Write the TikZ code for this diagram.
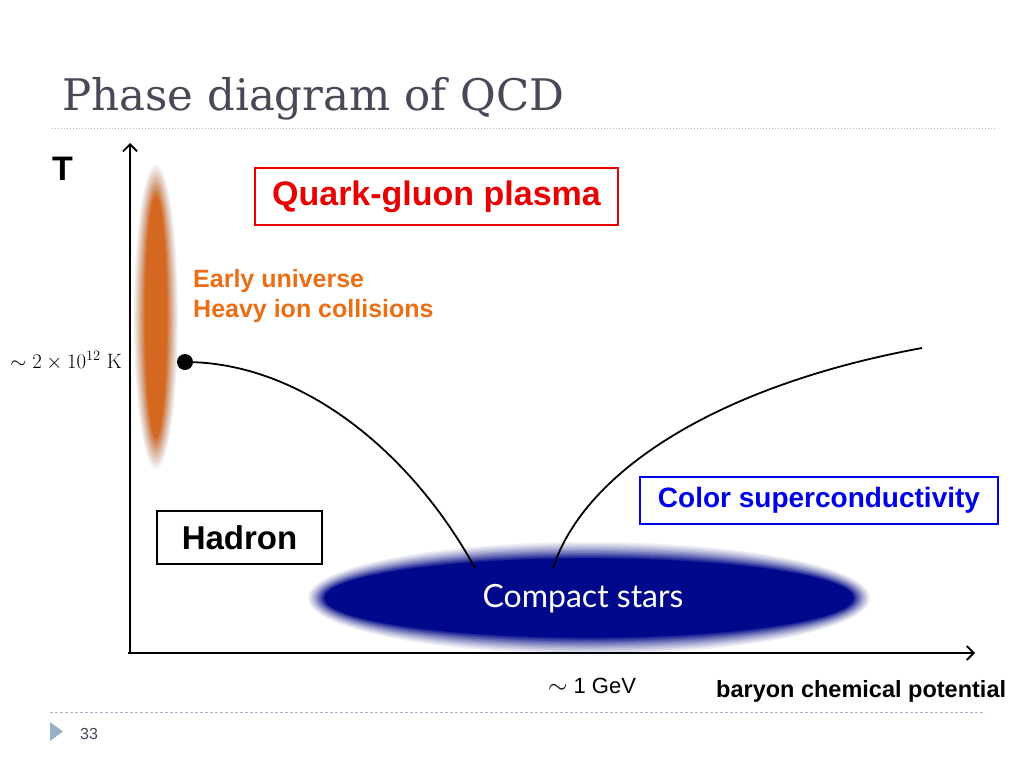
\documentclass[tikz,border=0pt]{standalone}
\usepackage[no-math]{fontspec}
\setmainfont{Liberation Sans}
\newfontfamily\titlefont{DejaVu Serif}
\newfontfamily\starfont{Lato}
\usetikzlibrary{positioning,arrows.meta}

\definecolor{titlegray}{RGB}{72,72,88}
\definecolor{rulegray}{RGB}{185,185,185}
\definecolor{ruleblue}{RGB}{165,182,200}
\definecolor{bullet}{RGB}{154,176,200}
\definecolor{qgpred}{RGB}{232,0,0}
\definecolor{cscblue}{RGB}{0,0,230}
\definecolor{fireball}{RGB}{212,104,32}
\definecolor{fireedge}{RGB}{160,120,105}
\definecolor{earlyorange}{RGB}{236,110,20}
\definecolor{starblue}{RGB}{0,8,140}
\definecolor{staredge}{RGB}{90,95,160}

\tikzstyle{axisline} = [line width=1.8pt,->,>={Straight Barb[length=7pt,width=14pt]}]
\tikzstyle{phaseline} = [line width=1.8pt]
\tikzstyle{phasebox} = [draw, line width=2.5pt, font=\fontsize{33}{36}\selectfont\bfseries, inner sep=0]
\tikzstyle{label} = [inner sep=0, anchor=base west]

\begin{document}
\begin{tikzpicture}[x=1pt,y=-1pt]
    \useasboundingbox [fill=white] (0,0) rectangle (1024,768);

    \node (title) [label, text=titlegray, font=\titlefont\fontsize{43.5}{47}\selectfont] at (62,110) {Phase diagram of QCD};
    \draw [rulegray, line width=1pt, dotted] (52,128) -- (995,128);
    \draw [ruleblue, line width=1pt, dash pattern=on 3pt off 2pt] (50,712) -- (985,712);
    \fill [bullet] (50,722) -- (63,731.5) -- (50,741) -- cycle;
    \node (page) [label, text=titlegray, font=\fontsize{16}{18}\selectfont] at (80,739) {33};

    % blurred regions, built up from the outside in
    \foreach \i [evaluate=\i as \p using (\i+1)*10] in {0,...,9}
        \fill [fireball!\p!fireedge!\p!white] (156,317) ellipse [x radius=22-1.2*\i, y radius=152-3.4*\i];
    \foreach \i [evaluate=\i as \p using (\i+1)*10] in {0,...,9}
        \fill [starblue!\p!staredge!\p!white] (589,598) ellipse [x radius=281-1.8*\i, y radius=56-1.8*\i];
    \node (stars) [text=white, font=\starfont\fontsize{32}{34}\selectfont] at (583,599) {Compact stars};

    \coordinate (origin) at (130,653);
    \coordinate (tend) at (130,143);
    \coordinate (muend) at (975,653);
    \draw [axisline] (origin) -- (tend);
    \draw [axisline] ([xshift=-2pt]origin) -- (muend);

    \node (T) [label, font=\fontsize{34}{36}\selectfont\bfseries] at (52,180) {T};
    \node (tc) [inner sep=0, anchor=base east, font=\fontsize{22}{24}\selectfont] at (122,368) {$\sim 2\times 10^{12}\ \mathrm{K}$};
    \node (gev) [label, font=\fontsize{22}{24}\selectfont] at (548,693) {{\fontsize{26}{26}\selectfont$\sim$} 1 GeV};
    \node (mu) [label, font=\fontsize{23.5}{26}\selectfont\bfseries] at (716,697) {baryon chemical potential};

    \node (cep) [circle, fill, inner sep=0, minimum size=16pt] at (185,362) {}; % critical end point
    \coordinate (hend) at (475,568);
    \coordinate (cstart) at (553,568);
    \coordinate (cend) at (922,348);
    \draw [phaseline] (cep.center) .. controls (300,362) and (410,450) .. (hend);
    \draw [phaseline] (cstart) .. controls (585,470) and (720,385) .. (cend);

    \node (qgp) [phasebox, qgpred, minimum width=363pt, minimum height=57pt, font=\fontsize{34}{36}\selectfont\bfseries] at (436.5,196.5) {Quark-gluon plasma};
    \node (had) [phasebox, minimum width=165pt, minimum height=53pt] at (239.5,537.5) {Hadron};
    \node (csc) [phasebox, cscblue, minimum width=358pt, minimum height=47pt, font=\fontsize{28}{30}\selectfont\bfseries] at (819,500.5) {Color superconductivity};

    \node (early) [label, text=earlyorange, font=\fontsize{25}{27}\selectfont\bfseries] at (193,287) {Early universe};
    \node (heavy) [label, text=earlyorange, font=\fontsize{25}{27}\selectfont\bfseries] at (193,317) {Heavy ion collisions};
\end{tikzpicture}
\end{document}
